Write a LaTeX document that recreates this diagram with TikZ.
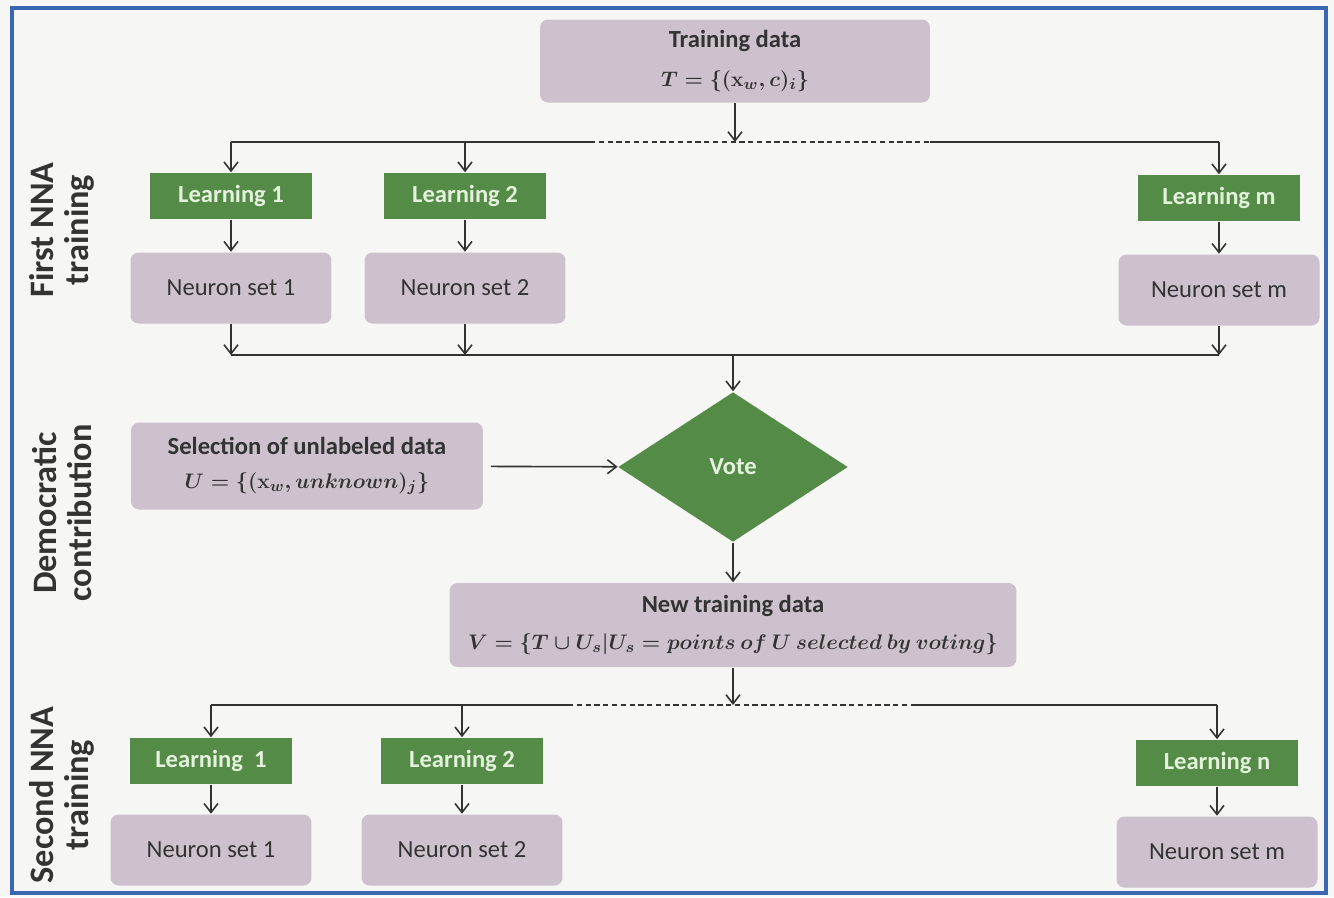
\documentclass[tikz,border=0pt]{standalone}
\usepackage{fontspec}
\setmainfont{Carlito}
\usetikzlibrary{shapes.geometric,arrows.meta}
\definecolor{learngreen}{HTML}{548B46}
\definecolor{learntext}{HTML}{E4F1DC}
\definecolor{setlilac}{HTML}{CDC1CD}
\definecolor{frameblue}{HTML}{3A67B2}
\definecolor{txtgray}{HTML}{333333}
\definecolor{paper}{HTML}{F6F6F4}

\begin{document}
\begin{tikzpicture}[x=0.02cm,y=-0.02cm,
  >={Straight Barb[length=1.8mm,width=2.8mm]},
  every path/.style={line width=0.9pt,draw=txtgray},
  learn/.style={fill=learngreen,draw=none,text=learntext,minimum width=3.24cm,minimum height=0.92cm,
    font=\fontsize{14}{16}\selectfont\bfseries},
  nset/.style={fill=setlilac,draw=none,rounded corners=0.16cm,text=txtgray,minimum width=4.02cm,minimum height=1.42cm,
    font=\fontsize{14}{16}\selectfont},
  datbox/.style={fill=setlilac,draw=none,rounded corners=0.16cm,text=txtgray,align=center,
    font=\fontsize{12.2}{16}\selectfont\boldmath},
  side/.style={rotate=90,align=center,text=txtgray,font=\fontsize{19.5}{20}\selectfont\bfseries}]

\fill[paper,draw=none] (0,0) rectangle (1334,897);
\draw[frameblue,line width=2pt] (12,8) rectangle (1326,893);

\node[side] (firstlbl) at (62,230) {First NNA\\training};
\node[side] (demolbl) at (62,513) {Democratic\\contribution};
\node[side] (secondlbl) at (62,795) {Second NNA\\training};

\node[datbox,minimum width=7.8cm,minimum height=1.66cm] (train) at (735,61)
  {\textbf{\fontsize{14}{16}\selectfont Training data}\\[6pt] $T=\{(\mathbf{x}_{w},c)_{i}\}$};

\node[learn] (learnA) at (231,196) {Learning 1};
\node[learn] (learnB) at (465,196) {Learning 2};
\node[learn] (learnM) at (1219,198) {Learning m};
\node[nset] (setA) at (231,288) {Neuron set 1};
\node[nset] (setB) at (465,288) {Neuron set 2};
\node[nset] (setM) at (1219,290) {Neuron set m};

\node[datbox,minimum width=7.04cm,minimum height=1.74cm] (select) at (307,466)
  {\textbf{\fontsize{14}{16}\selectfont Selection of unlabeled data}\\[3pt] $U=\big\{(\mathbf{x}_{w},unknown)_{j}\big\}$};
\node[diamond,fill=learngreen,draw=none,text=learntext,minimum width=4.6cm,minimum height=3cm,inner sep=0pt,
  font=\fontsize{14}{16}\selectfont\bfseries] (vote) at (733,467) {Vote};

\node[datbox,minimum width=11.34cm,minimum height=1.68cm] (newdata) at (733,625)
  {\textbf{\fontsize{14}{16}\selectfont New training data}\\[5pt] $V=\{T\cup U_{s}|U_{s}=points\ of\ U\ selected\ by\ voting\}$};

\node[learn] (learnC) at (211,761) {Learning\ \ 1};
\node[learn] (learnD) at (462,761) {Learning 2};
\node[learn] (learnN) at (1217,763) {Learning n};
\node[nset] (setC) at (211,850) {Neuron set 1};
\node[nset] (setD) at (462,850) {Neuron set 2};
\node[nset] (setN) at (1217,852) {Neuron set m};

\coordinate (busA) at (735,142);
\coordinate (dashA) at (590,142);
\coordinate (dashB) at (930,142);
\coordinate (busB) at (733,355);
\coordinate (busC) at (733,705);
\coordinate (dashC) at (568,705);
\coordinate (dashD) at (912,705);

\draw[->] (train) -- (busA);
\draw (learnA|-busA) -- (dashA);
\draw[dashed,dash pattern=on 3pt off 2pt] (dashA) -- (dashB);
\draw (dashB) -- (learnM|-busA);
\draw[->] (learnA|-busA) -- (learnA);
\draw[->] (learnB|-busA) -- (learnB);
\draw[->] (learnM|-busA) -- (learnM);
\draw[->] (learnA) -- (setA);
\draw[->] (learnB) -- (setB);
\draw[->] (learnM) -- (setM);

\draw[->] (setA) -- (setA|-busB);
\draw[->] (setB) -- (setB|-busB);
\draw[->] (setM) -- (setM|-busB);
\draw (setA|-busB) -- (setM|-busB);
\draw[->] (busB) -- (vote);

\draw[->,shorten <=4pt] (select) -- (vote);
\draw[->] (vote) -- (newdata);

\draw[->] (newdata) -- (busC);
\draw (learnC|-busC) -- (dashC);
\draw[dashed,dash pattern=on 3pt off 2pt] (dashC) -- (dashD);
\draw (dashD) -- (learnN|-busC);
\draw[->] (learnC|-busC) -- (learnC);
\draw[->] (learnD|-busC) -- (learnD);
\draw[->] (learnN|-busC) -- (learnN);
\draw[->] (learnC) -- (setC);
\draw[->] (learnD) -- (setD);
\draw[->] (learnN) -- (setN);
\end{tikzpicture}
\end{document}
